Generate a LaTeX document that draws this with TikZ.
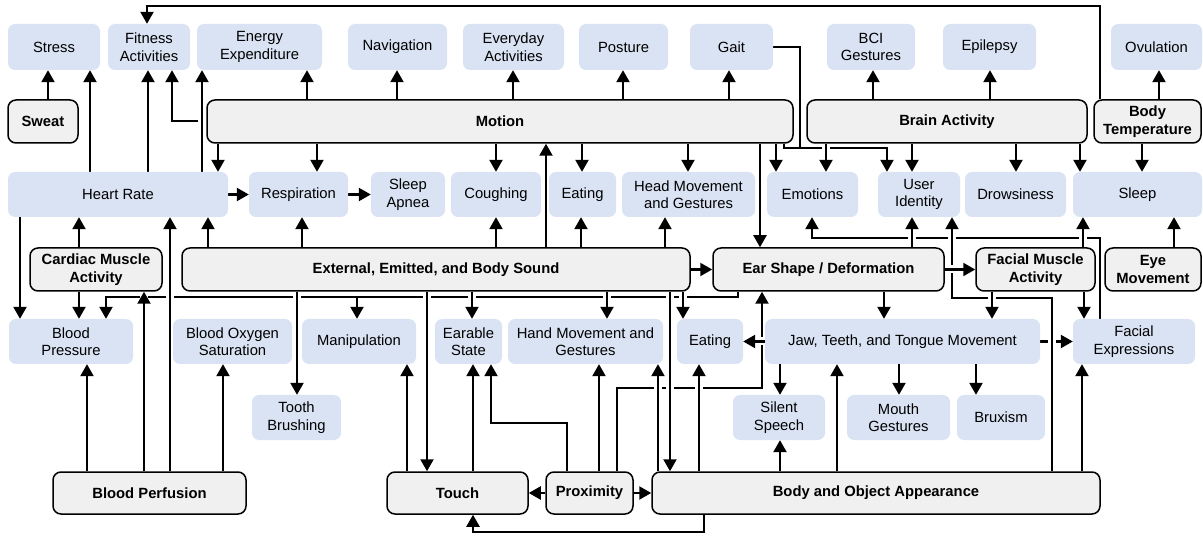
\documentclass[tikz,border=0pt]{standalone}
\usepackage{fontspec}
\setmainfont{Liberation Sans}
\usetikzlibrary{arrows.meta}
\definecolor{lblue}{HTML}{DAE3F3}
\definecolor{lgray}{HTML}{F0F0F0}
\newcommand\fs{\fontsize{14.8}{17.5}\selectfont}
\pgfdeclarelayer{bg}
\pgfsetlayers{bg,main}
\newcommand\mybox[7]{\node[#6, minimum width={(#4)-(#2)}, minimum height={(#5)-(#3)}] (#1) at ({((#2)+(#4))/2},{((#3)+(#5))/2}) {#7};}
\newcommand\myup[4][]{\draw[arr,#1] (#2.north -| #4,0) -- (#3.south -| #4,0);}
\newcommand\mydown[4][]{\draw[arr,#1] (#2.south -| #4,0) -- (#3.north -| #4,0);}
\tikzset{
  lb/.style={fill=lblue, rounded corners=7pt, inner sep=0pt, align=center, font=\fs},
  gb/.style={fill=lgray, draw=black, line width=1.5pt, rounded corners=8pt, inner sep=0pt, align=center, font=\fs\bfseries},
  arr/.style={line width=2.2pt, -{Triangle[length=12pt,width=13pt]}},
  ln/.style={line width=2.2pt},
  hl/.style={preaction={draw=white, line width=8pt, arrows=-}}
}
\begin{document}
\begin{tikzpicture}[x=1pt,y=-1pt]
\useasboundingbox (0,0) rectangle (1203,537);
% row 1
\mybox{stress}{8}{24}{100}{70}{lb}{Stress}
\mybox{fit}{108}{24}{190}{70}{lb}{Fitness\\Activities}
\mybox{ee}{197}{24}{322}{70}{lb}{Energy\\Expenditure}
\mybox{nav}{348}{24}{447}{70}{lb}{Navigation}
\mybox{eda}{463}{24}{564}{70}{lb}{Everyday\\Activities}
\mybox{post}{579}{24}{668}{70}{lb}{Posture}
\mybox{gait}{690}{24}{773}{70}{lb}{Gait}
\mybox{bci}{827}{24}{915}{70}{lb}{BCI\\Gestures}
\mybox{epi}{943}{24}{1036}{70}{lb}{Epilepsy}
\mybox{ovu}{1111}{24}{1202}{70}{lb}{Ovulation}
% row 2
\mybox{sweat}{8}{100}{78}{143}{gb}{Sweat}
\mybox{mot}{207}{100}{793}{143}{gb}{Motion}
\mybox{brain}{807}{100}{1087}{143}{gb}{Brain Activity}
\mybox{btemp}{1094}{100}{1201}{143}{gb}{Body\\Temperature}
% row 3
\mybox{hr}{8}{172}{228}{217}{lb}{Heart Rate}
\mybox{resp}{249}{172}{348}{217}{lb}{Respiration}
\mybox{apnea}{371}{172}{445}{217}{lb}{Sleep\\Apnea}
\mybox{cough}{451}{172}{541}{217}{lb}{Coughing}
\mybox{eat1}{549}{172}{616}{217}{lb}{Eating}
\mybox{head}{622}{172}{755}{217}{lb}{Head Movement\\and Gestures}
\mybox{emo}{767}{172}{858}{217}{lb}{Emotions}
\mybox{uid}{878}{172}{960}{217}{lb}{User\\Identity}
\mybox{drow}{965}{172}{1066}{217}{lb}{Drowsiness}
\mybox{sleep}{1073}{172}{1202}{217}{lb}{Sleep}
% row 4
\mybox{cma}{30}{248}{162}{291}{gb}{Cardiac Muscle\\Activity}
\mybox{ext}{182}{248}{690}{291}{gb}{External, Emitted, and Body Sound}
\mybox{ear}{713}{248}{944}{291}{gb}{Ear Shape / Deformation}
\mybox{fma}{976}{248}{1095}{291}{gb}{Facial Muscle\\Activity}
\mybox{eye}{1105}{248}{1201}{291}{gb}{Eye\\Movement}
% row 5
\mybox{bp}{9}{319}{133}{364}{lb}{Blood\\Pressure}
\mybox{spo2}{173}{319}{292}{364}{lb}{Blood Oxygen\\Saturation}
\mybox{manip}{302}{319}{416}{364}{lb}{Manipulation}
\mybox{estate}{435}{319}{502}{364}{lb}{Earable\\State}
\mybox{hand}{508}{319}{663}{364}{lb}{Hand Movement and\\Gestures}
\mybox{eat2}{677}{319}{743}{364}{lb}{Eating}
\mybox{jaw}{765}{319}{1040}{364}{lb}{Jaw, Teeth, and Tongue Movement}
\mybox{fe}{1073}{319}{1195}{364}{lb}{Facial\\Expressions}
% row 6
\mybox{tooth}{252}{395}{341}{440}{lb}{Tooth\\Brushing}
\mybox{silent}{733}{395}{825}{440}{lb}{Silent\\Speech}
\mybox{mouth}{847}{395}{950}{440}{lb}{Mouth\\Gestures}
\mybox{brux}{957}{395}{1045}{440}{lb}{Bruxism}
% row 7
\mybox{bperf}{53}{472}{246}{514}{gb}{Blood Perfusion}
\mybox{touch}{387}{472}{528}{514}{gb}{Touch}
\mybox{prox}{546}{472}{633}{514}{gb}{Proximity}
\mybox{boa}{652}{472}{1100}{514}{gb}{Body and Object Appearance}

\begin{pgfonlayer}{bg}
% top loop
\draw[arr] (btemp.north -| 1100,0) -- (1100,6) -| (fit.north -| 147,0);
% upper part
\myup{sweat}{stress}{48}
\myup{hr}{stress}{90}
\myup{hr}{fit}{148}
\draw[arr] (mot.west |- 0,121) -| (fit.south -| 172,0);
\myup[hl]{hr}{ee}{202}
\myup{mot}{ee}{307}
\mydown{mot}{hr}{218}
\myup{mot}{nav}{397}
\myup{mot}{eda}{513}
\myup{mot}{post}{623}
\myup{mot}{gait}{729}
\mydown{mot}{resp}{317}
\mydown{mot}{cough}{496}
\myup{ext}{mot}{546}
\mydown{mot}{eat1}{582}
\mydown{mot}{head}{688}
\mydown{mot}{ear}{760}
\mydown{mot}{emo}{776}
\draw[arr] (mot.south -| 784,0) -- (784,148) -| (uid.north -| 887,0);
\draw[ln] (gait.east) -| (800,148);
\myup{brain}{bci}{873}
\myup{brain}{epi}{990}
\mydown[hl]{brain}{emo}{826}
\mydown{brain}{uid}{912}
\mydown{brain}{drow}{1016}
\mydown{brain}{sleep}{1080}
\myup{btemp}{ovu}{1159}
\mydown{btemp}{sleep}{1142}
\draw[arr] (hr) -- (resp);
\draw[arr] (resp) -- (apnea);
% middle left
\mydown{hr}{bp}{20}
\myup{cma}{hr}{79}
\mydown{cma}{bp}{79}
\myup{ext}{hr}{208}
\myup{ext}{resp}{302}
\myup{ext}{cough}{496}
\myup{ext}{eat1}{581}
\myup{ext}{head}{665}
\draw[arr] (ext) -- (ear);
% bus from ear shape
\draw[arr] (ear.south -| 738,0) -- (738,297) -| (bp.north -| 106,0);
\draw[arr] (357,297) -- (manip.north -| 357,0);
% proximity -> ear shape
\draw[arr] (prox.north -| 617,0) -- (617,388) -| (ear.south -| 762,0);
% verticals crossing
\myup[hl]{bperf}{cma}{144}
\myup[hl]{bperf}{hr}{170}
\myup{bperf}{bp}{87}
\myup{bperf}{spo2}{223}
\mydown[hl]{ext}{tooth}{297}
\mydown[hl]{ext}{touch}{427}
\mydown[hl]{ext}{estate}{472}
\mydown[hl]{ext}{hand}{607}
\mydown[hl]{ext}{boa}{670}
\mydown[hl]{ext}{eat2}{683}
\myup[hl]{boa}{hand}{658}
\myup[hl]{boa}{eat2}{699}
\draw[arr,hl] (jaw) -- (eat2);
% bottom
\myup{touch}{manip}{407}
\myup{touch}{estate}{473}
\draw[arr] (prox.north -| 567,0) -- (567,423) -| (estate.south -| 491,0);
\myup{prox}{hand}{599}
\draw[arr] (prox) -- (touch);
\draw[arr] (prox) -- (boa);
\draw[arr] (boa.south -| 704,0) -- (704,532) -| (touch.south -| 473,0);
\myup{boa}{silent}{780}
\mydown{jaw}{silent}{780}
\myup{boa}{jaw}{837}
\mydown{jaw}{mouth}{899}
\mydown{jaw}{brux}{976}
\myup{boa}{fe}{1082}
\mydown{ear}{jaw}{884}
\mydown{fma}{fe}{1084}
\myup{eye}{sleep}{1174}
% right side
\draw[arr] (fe.north -| 1100,0) -- (1100,238) -| (emo.south -| 812,0);
\draw[arr] (jaw) -- (fe);
\draw[arr,hl] (boa.north -| 1052,0) -- (1052,298) -| (uid.south -| 952,0);
\draw[arr,hl] (ear) -- (fma);
\mydown[hl]{fma}{jaw}{992}
\myup[hl]{ear}{uid}{912}
\myup[hl]{fma}{sleep}{1083}
\end{pgfonlayer}
\end{tikzpicture}
\end{document}
